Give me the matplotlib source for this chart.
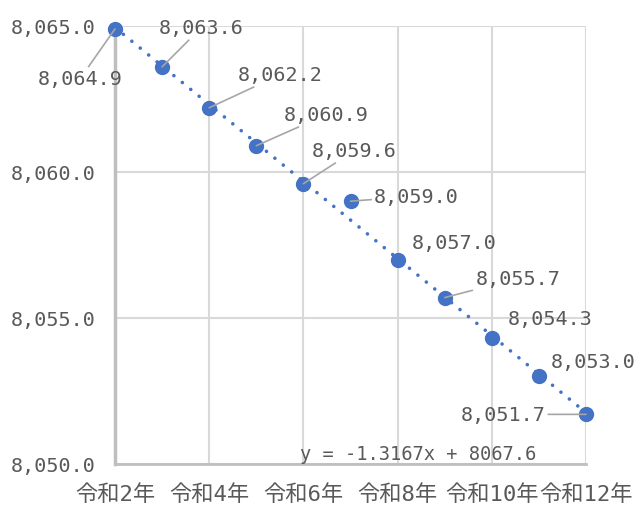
import numpy as np
import matplotlib
matplotlib.use("Agg")
import matplotlib.pyplot as plt

# data
years = ["令和2年", "令和3年", "令和4年", "令和5年", "令和6年", "令和7年",
         "令和8年", "令和9年", "令和10年", "令和11年", "令和12年"]
values = [8064.9, 8063.6, 8062.2, 8060.9, 8059.6, 8059.0,
          8057.0, 8055.7, 8054.3, 8053.0, 8051.7]
# equation as printed on the chart
eq_slope = -1.3167
eq_intercept = 8067.6

BLUE = "#4472C4"
TXT = "#595959"
MONO = ["DejaVu Sans Mono", "Noto Sans CJK JP"]

# label offsets (pixels) from each point, and whether a leader line is drawn
label_off = [(-35, -50), (39, 39), (71, 33), (70, 31), (51, 33), (66, 5),
             (57, 17), (73, 19), (58, 20), (54, 15), (-83, 0)]
leader = [True, True, True, True, True, True, False, True, False, False, True]

x = np.arange(1, len(values) + 1)

fig = plt.figure(figsize=(6.37, 5.06), dpi=100)
ax = fig.add_axes([115/637, 1-465/506, 471/637, 438/506])

# trendline
k, b = np.polyfit(x, values, 1)
ax.plot(x, k*x + b, color=BLUE, lw=2.6, linestyle=(0, (0.01, 3)),
        dash_capstyle="round", zorder=3)

ax.plot(x, values, linestyle="none", marker="o", ms=10, color=BLUE,
        clip_on=False, zorder=4)

for xi, v, off, ld in zip(x, values, label_off, leader):
    ap = None
    if ld:
        ap = dict(arrowstyle="-", color="#a6a6a6", lw=1.2, shrinkA=0, shrinkB=0)
    ax.annotate(f"{v:,.1f}", (xi, v), xytext=off, textcoords="offset pixels",
                ha="center", va="center", fontsize=14.5, family=MONO,
                color=TXT, arrowprops=ap, zorder=5, annotation_clip=False)

ax.text(0.643, 0.025, f"y = {eq_slope:.4f}x + {eq_intercept:.1f}",
        transform=ax.transAxes, ha="center", va="center", fontsize=13.5,
        family=MONO, color=TXT)

ax.set_xlim(1, 11)
ax.set_ylim(8050, 8065)
ax.set_yticks([8050, 8055, 8060, 8065])
ax.set_yticklabels([f"{t:,.1f}" for t in [8050, 8055, 8060, 8065]],
                   family=MONO, fontsize=14.5, color=TXT)
ax.set_xticks(x[::2])
ax.set_xticklabels(years[::2], family=MONO, fontsize=16, color=TXT)
ax.tick_params(length=0)
ax.tick_params(axis="y", pad=14)
ax.tick_params(axis="x", pad=14)

ax.grid(True, color="#d9d9d9", lw=1.5)
ax.set_axisbelow(True)
for s in ["top", "right"]:
    ax.spines[s].set_visible(False)
ax.spines["left"].set_color("#bfbfbf")
ax.spines["left"].set_linewidth(2.5)
ax.spines["bottom"].set_color("#bfbfbf")
ax.spines["bottom"].set_linewidth(2)

fig.savefig("out.png", dpi=100)
